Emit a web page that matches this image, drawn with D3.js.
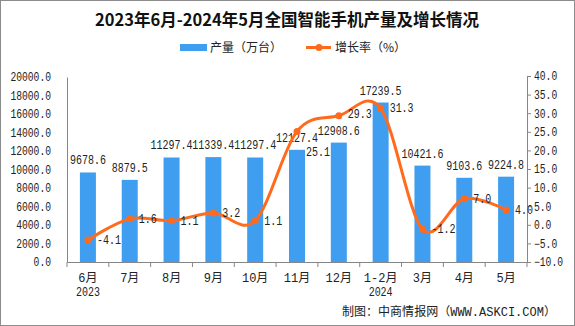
<!DOCTYPE html>
<html><head><meta charset="utf-8">
<script src="https://cdn.jsdelivr.net/npm/d3@7"></script>
<style>
html,body{margin:0;padding:0;background:#fff;}
svg{display:block;}
</style></head>
<body>
<script>
const categories = ["6月","7月","8月","9月","10月","11月","12月","1-2月","3月","4月","5月"];
const yearLabels = ["2023","","","","","","","2024","","",""];
const output = [9678.6, 8879.5, 11297.4, 11339.4, 11297.4, 12127.4, 12908.6, 17239.5, 10421.6, 9103.6, 9224.8];
const growth = [-4.1, 1.6, 1.1, 3.2, 1.1, 25.1, 29.3, 31.3, -1.2, 7.0, 4.0];
const leftTicks = [0,2000,4000,6000,8000,10000,12000,14000,16000,18000,20000];
const rightTicks = [-10,-5,0,5,10,15,20,25,30,35,40];

const W = 575, H = 326;
const numFont = "'Liberation Mono', 'DejaVu Sans Mono', monospace";
const cjkFont = "'Noto Sans CJK SC', 'Liberation Mono', sans-serif";
const mixFont = "'Liberation Mono', 'Noto Sans CJK SC', monospace";
const barColor = "#3f9ef0", lineColor = "#ff6a1c", axisColor = "#868686";

function mono(sel, perChar) {
  sel.attr("font-family", numFont).attr("font-size", 12).attr("fill", "#222")
    .attr("lengthAdjust", "spacingAndGlyphs")
    .each(function() {
      const t = d3.select(this).text();
      if (t.length) d3.select(this).attr("textLength", t.length * perChar);
    });
}

const svg = d3.select("body").append("svg").attr("width", W).attr("height", H);
svg.append("rect").attr("x",0.5).attr("y",0.5).attr("width",W-1).attr("height",H-1)
  .attr("fill","#fff").attr("stroke","#8c8c8c");

const x = d3.scaleBand().domain(categories).range([67, 527]).padding(0);
const yL = d3.scaleLinear().domain([0, 20000]).range([262, 77]);
const yR = d3.scaleLinear().domain([-10, 40]).range([262, 76]);

// title
svg.append("text").attr("x", 287).attr("y", 26).attr("text-anchor","middle")
  .attr("font-family", cjkFont).attr("font-weight","bold").attr("font-size", 16.5)
  .attr("fill","#111").text("2023年6月-2024年5月全国智能手机产量及增长情况");

// legend
svg.append("rect").attr("x",180).attr("y",44).attr("width",27).attr("height",7).attr("fill",barColor);
svg.append("text").attr("x",210).attr("y",52).attr("font-family",cjkFont).attr("font-size",12)
  .attr("fill","#222").text("产量（万台）");
svg.append("line").attr("x1",306).attr("x2",331).attr("y1",47.5).attr("y2",47.5)
  .attr("stroke",lineColor).attr("stroke-width",3);
svg.append("circle").attr("cx",319).attr("cy",47.5).attr("r",3.5).attr("fill",lineColor);
svg.append("text").attr("x",335).attr("y",52).attr("font-family",cjkFont).attr("font-size",12)
  .attr("fill","#222").text("增长率（%）");

// left axis
const gL = svg.append("g").attr("transform","translate(67,0)")
  .call(d3.axisLeft(yL).tickValues(leftTicks).tickSize(0).tickPadding(16).tickFormat(d3.format(".1f")));
gL.select(".domain").attr("stroke",axisColor);
mono(gL.selectAll("text"), 5.8);

// right axis
const gR = svg.append("g").attr("transform","translate(527,0)")
  .call(d3.axisRight(yR).tickValues(rightTicks).tickSize(4).tickPadding(3).tickFormat(d3.format(".1f")));
gR.select(".domain").attr("stroke",axisColor);
gR.selectAll("line").attr("stroke",axisColor);
mono(gR.selectAll("text"), 5.8);

// bars
svg.append("g").selectAll("rect").data(output).join("rect")
  .attr("x",(d,i)=>x(categories[i]) + x.bandwidth()/2 - 8)
  .attr("width",16)
  .attr("y",d=>yL(d)).attr("height",d=>yL(0)-yL(d))
  .attr("fill",barColor);

// x axis
const gX = svg.append("g").attr("transform","translate(0,262)")
  .call(d3.axisBottom(x).tickSize(0).tickFormat(""));
gX.select(".domain").attr("stroke",axisColor);
const bounds = categories.map(c=>x(c)).concat([x.range()[1]]);
svg.append("g").selectAll("line").data(bounds).join("line")
  .attr("x1",d=>d).attr("x2",d=>d).attr("y1",262).attr("y2",267).attr("stroke",axisColor);
svg.append("g").selectAll("text").data(categories).join("text")
  .attr("x",d=>x(d)+x.bandwidth()/2).attr("y",282).attr("text-anchor","middle")
  .attr("font-family",mixFont).attr("font-size",12).attr("fill","#222").text(d=>d);
mono(svg.append("g").selectAll("text").data(yearLabels).join("text")
  .attr("x",(d,i)=>x(categories[i])+x.bandwidth()/2).attr("y",296).attr("text-anchor","middle")
  .text(d=>d), 6);

// bar labels
mono(svg.append("g").selectAll("text").data(output).join("text")
  .attr("x",(d,i)=>x(categories[i])+x.bandwidth()/2).attr("y",d=>yL(d)-8)
  .attr("text-anchor","middle").text(d=>d.toFixed(1)), 6);

// line
const pts = growth.map((g,i)=>[x(categories[i])+x.bandwidth()/2, yR(g)]);
svg.append("path").attr("d", d3.line().curve(d3.curveCardinal.tension(0))(pts))
  .attr("fill","none").attr("stroke",lineColor).attr("stroke-width",3);
svg.append("g").selectAll("circle").data(pts).join("circle")
  .attr("cx",d=>d[0]).attr("cy",d=>d[1]).attr("r",3.5).attr("fill",lineColor);
// label nudges (11月 label sits below its point in the reference)
const nudgeY = {5: 21, 6: -2};
mono(svg.append("g").selectAll("text").data(growth).join("text")
  .attr("x",(d,i)=>pts[i][0]+9).attr("y",(d,i)=>pts[i][1]+4+(nudgeY[i]||0))
  .text(d=>d.toFixed(1)), 6);

// source
svg.append("text").attr("x",342).attr("y",316).attr("font-family",mixFont).attr("font-size",12)
  .attr("fill","#222").attr("textLength",214).attr("lengthAdjust","spacingAndGlyphs")
  .text("制图：中商情报网（WWW.ASKCI.COM）");
</script>
</body></html>
